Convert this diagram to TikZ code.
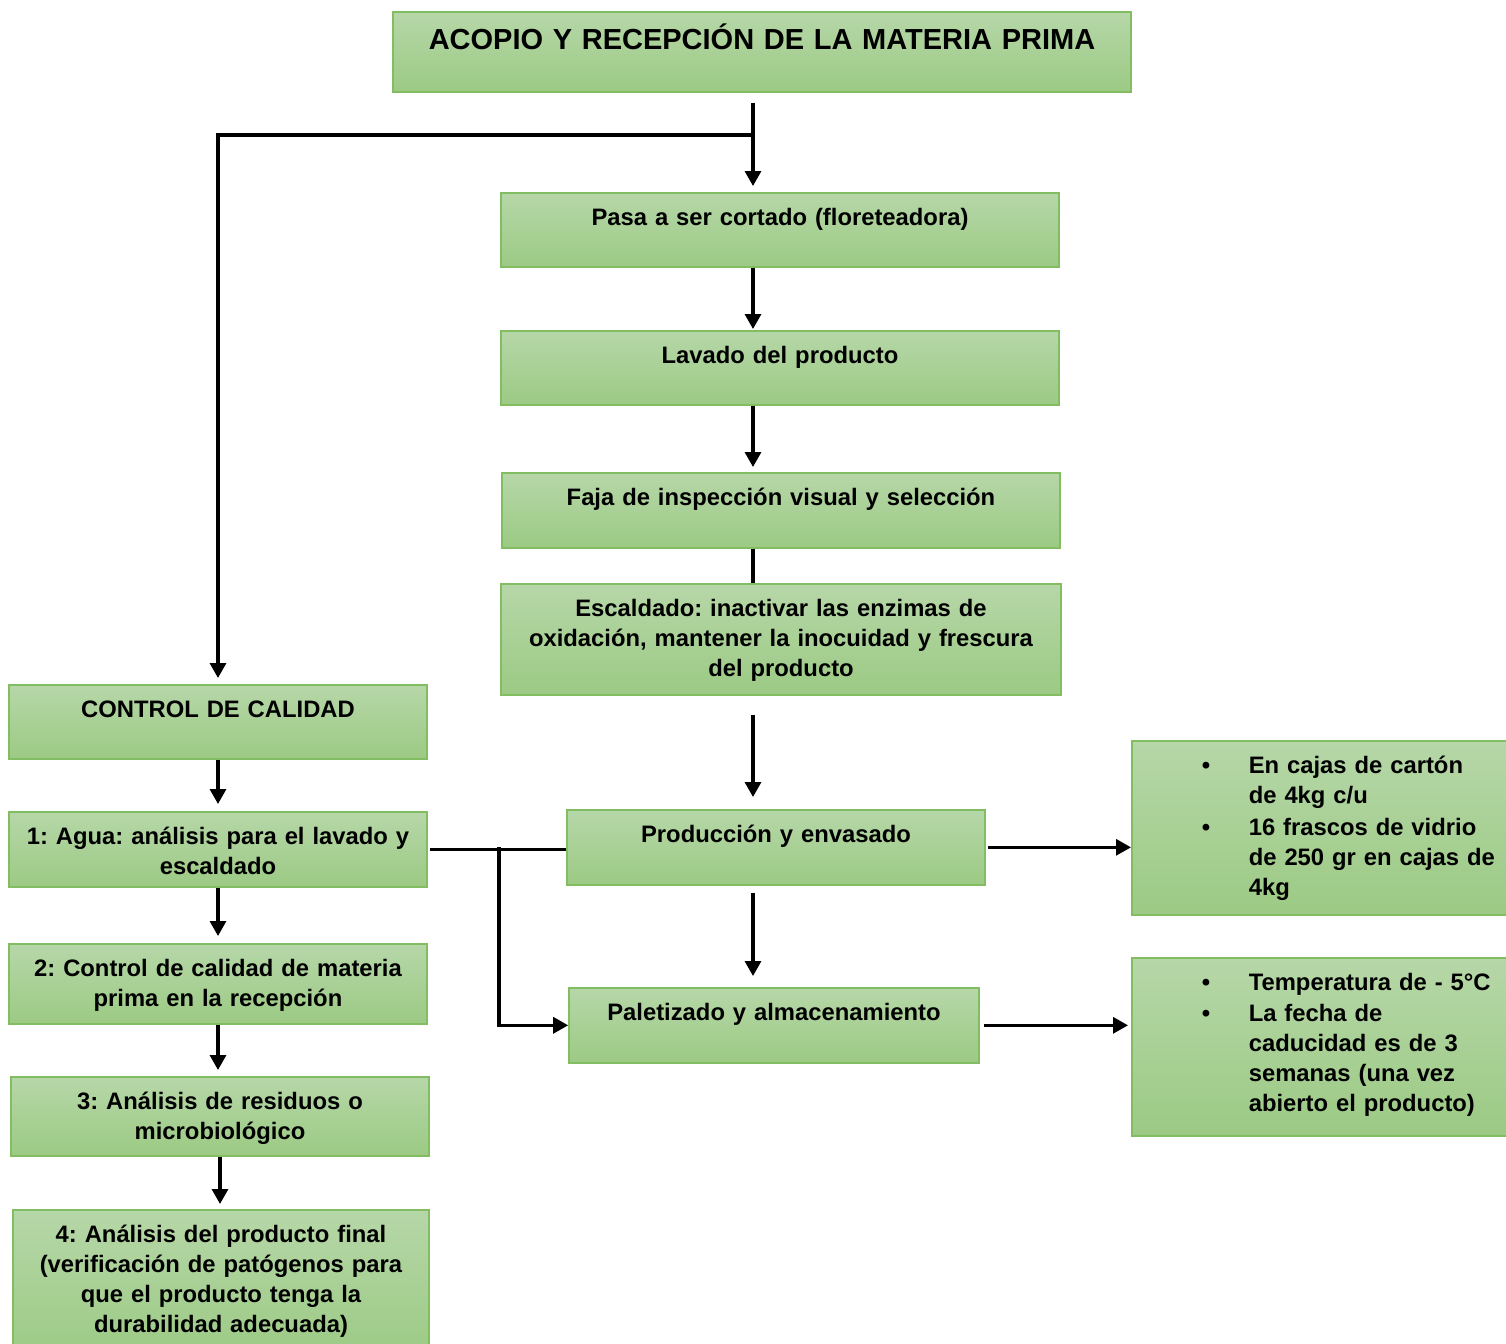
\documentclass[tikz,border=0pt]{standalone}
\usepackage{fontspec}
\setmainfont{Liberation Sans}
\usepackage{tikz}
\usetikzlibrary{arrows.meta,positioning,calc}
\frenchspacing
\definecolor{boxtop}{HTML}{B6D7A8}
\definecolor{boxbot}{HTML}{9CCA84}
\definecolor{boxline}{HTML}{82BE61}
\tikzset{
    every node/.style={font=\fontsize{11.9}{15}\selectfont\bfseries},
    flowbox/.style 2 args={rectangle,top color=boxtop,bottom color=boxbot,draw=boxline,line width=0.8pt,
        inner xsep=5pt,inner ysep=5pt,align=center,minimum width=#1,text width=#1-10pt,
        text height=11.5pt,text depth=#2-21.5pt,anchor=north},
    listbox/.style 2 args={flowbox={#1}{#2},align=left,anchor=north west},
    titlebox/.style={flowbox={369pt}{40pt},font=\fontsize{14.5}{18}\selectfont\bfseries,
        text height=14pt,text depth=16pt},
    link/.style={line width=1.6pt},
    arr/.style={link,-{Triangle[length=7.5pt,width=8pt]}}
}
\newcommand{\itemrow}{\textbullet &}
\begin{document}
\begin{tikzpicture}[x=0.5pt,y=-0.5pt]
    \useasboundingbox (0,0) rectangle (1506,1344);
    \node[titlebox] (acopio) at (762,11) {ACOPIO Y RECEPCIÓN DE LA MATERIA PRIMA};
    \node[flowbox={279pt}{37pt}] (corte) at (780,192) {Pasa a ser cortado (floreteadora)};
    \node[flowbox={279pt}{37pt}] (lavado) at (780,330) {Lavado del producto};
    \node[flowbox={279pt}{37.5pt}] (faja) at (781,472) {Faja de inspección visual y selección};
    \node[flowbox={280pt}{55.5pt}] (escaldado) at (781,583)
        {Escaldado: inactivar las enzimas de\\ oxidación, mantener la inocuidad y frescura\\ del producto};
    \node[flowbox={209pt}{37.5pt}] (envasado) at (776,809) {Producción y envasado};
    \node[flowbox={205pt}{37.5pt}] (paletizado) at (774,987) {Paletizado y almacenamiento};
    \node[flowbox={209pt}{37pt}] (control) at (218,684) {CONTROL DE CALIDAD};
    \node[flowbox={209pt}{37.5pt}] (agua) at (218,811) {1: Agua: análisis para el lavado y\\ escaldado};
    \node[flowbox={209pt}{40pt}] (recepcion) at (218,943) {2: Control de calidad de materia\\ prima en la recepción};
    \node[flowbox={209pt}{39.5pt}] (residuos) at (220,1076) {3: Análisis de residuos o\\ microbiológico};
    \node[flowbox={208pt}{75pt}] (final) at (221,1209)
        {4: Análisis del producto final\\ (verificación de patógenos para\\ que el producto tenga la\\ durabilidad adecuada)};
    \node[listbox={200pt}{87pt}] (cajas) at (1131,740) {%
        \begin{tabular}[t]{@{\hspace{30pt}}p{23.5pt}@{}l@{}}
        \itemrow En cajas de cartón\\
        & de 4kg c/u\\[1pt]
        \itemrow 16 frascos de vidrio\\
        & de 250 gr en cajas de\\
        & 4kg
        \end{tabular}};
    \node[listbox={200pt}{89pt}] (almacen) at (1131,957) {%
        \begin{tabular}[t]{@{\hspace{30pt}}p{23.5pt}@{}l@{}}
        \itemrow Temperatura de - 5°C\\[0.5pt]
        \itemrow La fecha de\\
        & caducidad es de 3\\
        & semanas (una vez\\
        & abierto el producto)
        \end{tabular}};
    \coordinate (eje) at (753,0);
    \coordinate (rama) at (753,135);
    \coordinate (cruce) at (499,847);
    \draw[arr,shorten <=5pt,shorten >=3pt] (acopio.south -| eje) -- (corte.north -| eje);
    \draw[arr,shorten >=3pt] (rama) -| (control.north);
    \draw[arr,shorten >=0.5pt] (corte.south -| eje) -- (lavado.north -| eje);
    \draw[arr,shorten >=2.5pt] (lavado.south -| eje) -- (faja.north -| eje);
    \draw[link] (faja.south -| eje) -- (escaldado.north -| eje);
    \draw[arr,shorten <=9.5pt,shorten >=6pt] (escaldado.south -| eje) -- (envasado.north -| eje);
    \draw[arr,shorten <=3.5pt,shorten >=5.5pt] (envasado.south -| eje) -- (paletizado.north -| eje);
    \draw[arr,shorten >=3.5pt] (control.south) -- (agua.north);
    \draw[arr,shorten >=3.5pt] (agua.south) -- (recepcion.north);
    \draw[arr,shorten >=3pt] (recepcion.south) -- (recepcion.south |- residuos.north);
    \draw[arr,shorten >=2.5pt] (residuos.south) -- (residuos.south |- final.north);
    \draw[link,shorten <=1pt] (agua.east) -- (agua.east -| envasado.west);
    \draw[arr] (cruce) |- (paletizado.west);
    \draw[arr,shorten <=1pt] (envasado.east) -- (envasado.east -| cajas.west);
    \draw[arr,shorten <=2pt,shorten >=1.5pt] (paletizado.east) -- (paletizado.east -| almacen.west);
\end{tikzpicture}
\end{document}
